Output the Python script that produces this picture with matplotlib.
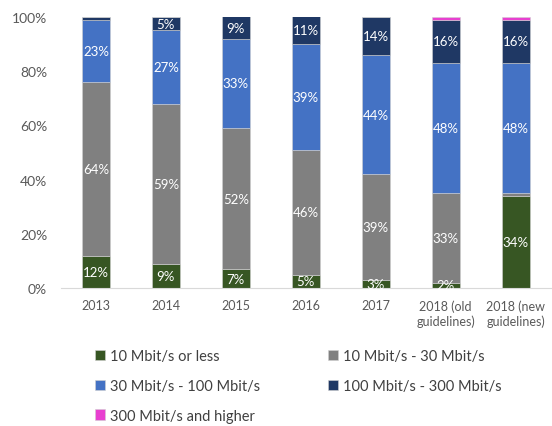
import matplotlib.pyplot as plt
import numpy as np

plt.rcParams['font.family'] = ['Lato', 'DejaVu Sans']

years = ['2013', '2014', '2015', '2016', '2017', '2018 (old\nguidelines)', '2018 (new\nguidelines)']
series = ['10 Mbit/s or less', '10 Mbit/s - 30 Mbit/s', '30 Mbit/s - 100 Mbit/s',
          '100 Mbit/s - 300 Mbit/s', '300 Mbit/s and higher']
upto10 = [12, 9, 7, 5, 3, 2, 34]
from10to30 = [64, 59, 52, 46, 39, 33, 1]
from30to100 = [23, 27, 33, 39, 44, 48, 48]
from100to300 = [1, 5, 9, 11, 14, 16, 16]
above300 = [0, 0, 0, 0, 0, 1, 1]
colors = ['#375623', '#808080', '#4472C4', '#1F3864', '#E83FD0']

values = [upto10, from10to30, from30to100, from100to300, above300]

fig = plt.figure(figsize=(5.52, 4.27), dpi=100)
ax = fig.add_axes([0.1105, 0.323, 0.887, 0.635])

x = np.arange(len(years))
bottom = np.zeros(len(years))
handles = []
for name, vals, col in zip(series, values, colors):
    vals = np.array(vals, dtype=float)
    bars = ax.bar(x, vals, 0.4, bottom=bottom, color=col, label=name,
                  edgecolor='#d0d0d0', linewidth=0.4)
    handles.append(bars)
    labels = ['%d%%' % v if v >= 2 else '' for v in vals]
    if name == series[-1]:
        labels = [''] * len(vals)
    texts = ax.bar_label(bars, labels=labels, label_type='center', color='white', fontsize=9.5)
    for t in texts:
        t.set_clip_on(True)
    bottom += vals

ax.set_ylim(0, 100)
ax.set_xlim(-0.5, len(years) - 0.5)
ax.set_yticks(range(0, 101, 20))
ax.set_yticklabels(['%d%%' % v for v in range(0, 101, 20)])
ax.set_xticks(x)
ax.set_xticklabels(years, fontsize=9, color='#595959', linespacing=1.3)
ax.tick_params(axis='y', length=0, labelsize=10, labelcolor='#595959', pad=10)
ax.tick_params(axis='x', length=0, pad=8)
for s in ['top', 'right', 'left']:
    ax.spines[s].set_visible(False)
ax.spines['bottom'].set_color('#d9d9d9')

order = [0, 2, 4, 1, 3]
fig.legend([handles[i] for i in order], [series[i] for i in order],
           loc='upper left', bbox_to_anchor=(0.172, 0.18), ncol=2, frameon=False,
           fontsize=10.5, labelcolor='#404040', handlelength=0.7, handleheight=0.7,
           handletextpad=0.3, columnspacing=4.7, labelspacing=1.08,
           borderaxespad=0, borderpad=0)

fig.savefig('out.png', dpi=100)
